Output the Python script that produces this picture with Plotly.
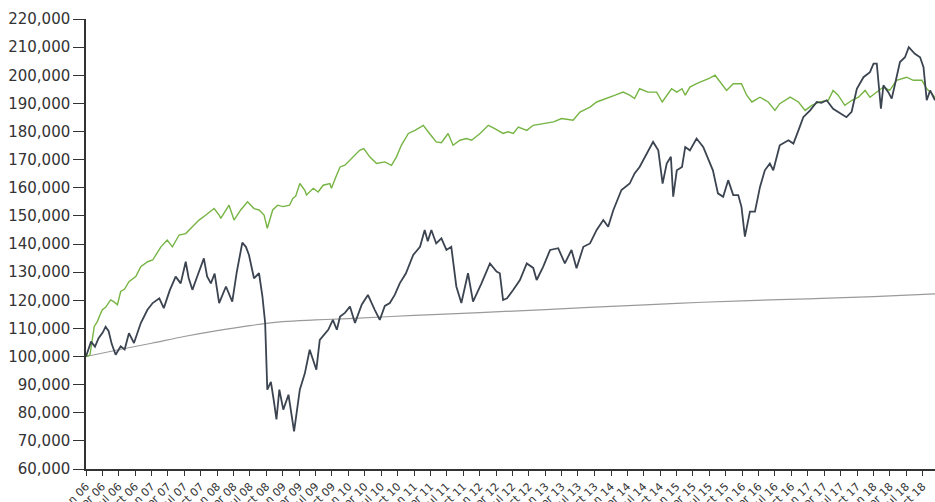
import plotly.graph_objects as go

# ---- Data ----
equity_dates = [
    "2006-01-01", "2006-01-29", "2006-02-20", "2006-03-12", "2006-04-04", "2006-04-20", "2006-05-07", "2006-05-24",
    "2006-06-15", "2006-07-13", "2006-08-04", "2006-08-28", "2006-09-25", "2006-11-02", "2006-12-09", "2007-01-07",
    "2007-02-13", "2007-03-10", "2007-04-12", "2007-05-15", "2007-06-12", "2007-07-10", "2007-07-26", "2007-08-16",
    "2007-09-15", "2007-10-19", "2007-11-06", "2007-11-27", "2007-12-18", "2008-01-12", "2008-02-19", "2008-03-25",
    "2008-04-19", "2008-05-20", "2008-06-09", "2008-06-26", "2008-07-24", "2008-08-21", "2008-09-09", "2008-09-24",
    "2008-10-06", "2008-10-26", "2008-11-12", "2008-11-26", "2008-12-12", "2009-01-03", "2009-02-01", "2009-02-16",
    "2009-03-04", "2009-04-05", "2009-05-03", "2009-05-30", "2009-07-06", "2009-07-25", "2009-09-10", "2009-10-06",
    "2009-10-28", "2009-11-15", "2009-12-12", "2010-01-09", "2010-02-06", "2010-03-16", "2010-04-19", "2010-05-27",
    "2010-06-24", "2010-07-22", "2010-08-19", "2010-09-16", "2010-10-13", "2010-11-16", "2010-12-27", "2011-02-03",
    "2011-03-01", "2011-03-18", "2011-04-07", "2011-05-04", "2011-06-02", "2011-06-30", "2011-07-27", "2011-08-24",
    "2011-09-21", "2011-10-28", "2011-11-25", "2012-01-11", "2012-02-27", "2012-04-04", "2012-04-22", "2012-05-10",
    "2012-06-01", "2012-07-06", "2012-08-12", "2012-09-19", "2012-10-25", "2012-11-13", "2012-12-19", "2013-01-27",
    "2013-03-13", "2013-04-19", "2013-05-26", "2013-06-23", "2013-07-31", "2013-09-06", "2013-10-13", "2013-11-19",
    "2013-12-16", "2014-01-14", "2014-02-28", "2014-04-15", "2014-05-12", "2014-06-09", "2014-07-08", "2014-08-23",
    "2014-09-21", "2014-10-15", "2014-11-07", "2014-11-30", "2014-12-13", "2015-01-02", "2015-01-31", "2015-02-18",
    "2015-03-16", "2015-04-22", "2015-05-29", "2015-06-25", "2015-07-22", "2015-08-19", "2015-09-17", "2015-10-15",
    "2015-11-12", "2015-12-10", "2015-12-28", "2016-01-16", "2016-02-13", "2016-03-12", "2016-04-09", "2016-05-06",
    "2016-06-03", "2016-06-22", "2016-07-28", "2016-09-14", "2016-10-12", "2016-11-09", "2016-12-06", "2017-01-13",
    "2017-02-19", "2017-03-17", "2017-04-15", "2017-05-21", "2017-07-06", "2017-08-03", "2017-09-01", "2017-09-30",
    "2017-11-06", "2017-12-12", "2018-01-01", "2018-01-19", "2018-02-11", "2018-02-25", "2018-03-24", "2018-04-12",
    "2018-05-01", "2018-05-28", "2018-06-25", "2018-07-16", "2018-08-19", "2018-09-17", "2018-10-06", "2018-10-24",
    "2018-11-12", "2018-12-09",
]
equity_values = [
    100000, 105300, 103500, 106500, 108500, 110600, 109000, 104500,
    100600, 103600, 102500, 108300, 104800, 111900, 116600, 119000,
    120700, 117200, 123500, 128400, 126000, 133700, 128000, 123700,
    129000, 134900, 128500, 126000, 129500, 119000, 124900, 119500,
    130000, 140500, 139000, 136100, 127800, 129600, 121300, 112000,
    88200, 91000, 84000, 77600, 88200, 81100, 86400, 80000,
    73400, 88200, 94000, 102400, 95300, 105900, 109500, 113000,
    109500, 114200, 115500, 117800, 111900, 118500, 121900, 116600,
    113000, 118000, 119000, 122000, 126000, 129500, 136100, 139000,
    145000, 141000, 145000, 140200, 142000, 137900, 139000, 124900,
    119000, 129600, 119500, 126000, 133100, 130200, 129600, 120100,
    120700, 123700, 127200, 133100, 131500, 127200, 131900, 137900,
    138500, 133100, 137900, 131400, 139000, 140200, 145000, 148500,
    146100, 152100, 159200, 161500, 165100, 167400, 171000, 176300,
    173300, 161500, 168600, 171000, 156800, 166200, 167400, 174500,
    173300, 177500, 174500, 170400, 166200, 158000, 156800, 162700,
    157400, 157400, 153200, 142600, 151500, 151500, 160300, 166200,
    168600, 166200, 175100, 176900, 175700, 180400, 185100, 187500,
    190500, 190200, 191100, 188100, 186400, 185100, 187000, 195200,
    199300, 201100, 204100, 204100, 188100, 196400, 194000, 191700,
    197000, 204700, 206400, 210000, 207600, 206400, 202900, 191100,
    194600, 191100,
]

bond_dates = [
    "2006-01-01", "2006-01-23", "2006-02-16", "2006-03-05", "2006-03-18", "2006-04-02", "2006-04-20", "2006-05-18",
    "2006-06-04", "2006-06-25", "2006-07-13", "2006-08-04", "2006-08-28", "2006-10-05", "2006-11-02", "2006-12-10",
    "2007-01-07", "2007-02-01", "2007-02-22", "2007-03-29", "2007-04-27", "2007-06-03", "2007-07-10", "2007-08-16",
    "2007-09-22", "2007-10-30", "2007-12-15", "2008-01-12", "2008-01-21", "2008-03-07", "2008-04-04", "2008-05-11",
    "2008-06-18", "2008-07-24", "2008-08-21", "2008-09-18", "2008-10-06", "2008-11-05", "2008-12-03", "2009-01-01",
    "2009-02-07", "2009-02-25", "2009-03-13", "2009-04-05", "2009-05-03", "2009-05-12", "2009-06-19", "2009-07-16",
    "2009-08-13", "2009-09-19", "2009-09-28", "2009-10-27", "2009-11-15", "2009-12-12", "2010-01-09", "2010-02-06",
    "2010-03-04", "2010-03-27", "2010-04-29", "2010-06-06", "2010-07-22", "2010-08-28", "2010-09-25", "2010-10-22",
    "2010-11-30", "2011-01-06", "2011-02-21", "2011-03-28", "2011-05-04", "2011-06-02", "2011-07-09", "2011-08-06",
    "2011-09-13", "2011-10-19", "2011-11-17", "2012-01-03", "2012-02-18", "2012-03-25", "2012-05-10", "2012-06-07",
    "2012-07-06", "2012-08-03", "2012-09-19", "2012-10-25", "2012-12-19", "2013-02-15", "2013-04-01", "2013-06-04",
    "2013-07-12", "2013-09-06", "2013-10-13", "2013-12-08", "2014-01-24", "2014-03-09", "2014-04-15", "2014-05-12",
    "2014-06-09", "2014-07-26", "2014-09-12", "2014-10-13", "2014-11-07", "2014-12-04", "2015-01-02", "2015-01-31",
    "2015-02-18", "2015-03-16", "2015-04-22", "2015-06-08", "2015-07-04", "2015-08-03", "2015-09-09", "2015-10-06",
    "2015-11-12", "2015-12-28", "2016-01-26", "2016-02-24", "2016-04-09", "2016-05-25", "2016-07-01", "2016-07-28",
    "2016-09-24", "2016-11-09", "2016-12-16", "2017-01-22", "2017-03-09", "2017-04-24", "2017-05-21", "2017-06-18",
    "2017-07-25", "2017-09-03", "2017-10-09", "2017-11-15", "2017-12-12", "2018-01-19", "2018-02-25", "2018-04-01",
    "2018-05-09", "2018-07-04", "2018-08-10", "2018-09-27", "2018-10-24", "2018-11-21", "2018-12-09",
]
bond_values = [
    100000, 100500, 110700, 112400, 114500, 116600, 117500, 120100,
    119500, 118400, 123100, 124000, 126600, 128400, 131900, 133700,
    134300, 137000, 139000, 141400, 139000, 143200, 143700, 146100,
    148500, 150300, 152600, 150300, 149100, 153800, 148500, 152100,
    155000, 152600, 152100, 150300, 145600, 152100, 153800, 153300,
    153800, 156200, 157000, 161500, 159100, 157400, 159800, 158500,
    160900, 161500, 159800, 164500, 167400, 168000, 169800, 171600,
    173300, 173900, 171000, 168600, 169200, 168000, 171000, 175100,
    179300, 180400, 182200, 179300, 176300, 176000, 179300, 175100,
    176900, 177500, 176900, 179300, 182200, 181000, 179300, 179900,
    179300, 181600, 180400, 182200, 182800, 183400, 184600, 184000,
    186900, 188700, 190500, 191700, 192900, 194000, 192900, 191700,
    195200, 194000, 194000, 190500, 192900, 195200, 194000, 195200,
    192900, 195800, 197000, 198200, 199000, 200000, 197000, 194600,
    197000, 197000, 192900, 190500, 192200, 190500, 187500, 189900,
    192200, 190500, 187500, 189300, 190500, 191100, 194600, 192900,
    189300, 191100, 192200, 194600, 192200, 194000, 195800, 194600,
    198200, 199300, 198200, 198200, 195200, 193500, 192000,
]

cash_dates = [
    "2006-01-01", "2006-07-01", "2007-01-01", "2007-07-01", "2008-01-01", "2008-07-01",
    "2009-01-01", "2009-07-01", "2010-01-01", "2011-01-01", "2012-01-01", "2013-01-01",
    "2014-01-01", "2015-01-01", "2016-01-01", "2017-01-01", "2018-01-01", "2018-12-09",
]
cash_values = [
    100000, 102400, 104700, 107100, 109200, 111000,
    112400, 113000, 113500, 114600, 115600, 116700,
    117800, 118900, 119800, 120500, 121300, 122300,
]

y_range = [60000, 220000]
x_range = ["2006-01-01", "2018-12-09"]

fig = go.Figure()
fig.add_trace(go.Scatter(x=cash_dates, y=cash_values, mode="lines",
                         line=dict(color="#9a9a9a", width=1.2, shape="spline"),
                         hoverinfo="skip"))
fig.add_trace(go.Scatter(x=bond_dates, y=bond_values, mode="lines",
                         line=dict(color="#76b443", width=1.4)))
fig.add_trace(go.Scatter(x=equity_dates, y=equity_values, mode="lines",
                         line=dict(color="#3b4450", width=1.8)))

fig.update_layout(
    width=935, height=502,
    margin=dict(l=86, r=0, t=19, b=33),
    paper_bgcolor="white", plot_bgcolor="white",
    showlegend=False,
    font=dict(family="DejaVu Sans", color="#333333"),
)
fig.update_xaxes(
    type="date", range=x_range, automargin=False,
    tick0="2006-01-01", dtick="M3", tickformat="%b %y",
    tickangle=-45, tickfont=dict(size=11, color="#333333"),
    ticks="outside", ticklen=5, tickwidth=1.2, tickcolor="#333333",
    showline=True, linecolor="#333333", linewidth=1.5,
    showgrid=False, zeroline=False,
)
fig.update_yaxes(
    range=y_range, dtick=10000, tickformat=",", automargin=False,
    tickfont=dict(size=15, color="#333333"),
    ticks="outside", ticklen=11, tickwidth=1.2, tickcolor="#333333",
    showline=True, linecolor="#333333", linewidth=1.5,
    showgrid=False, zeroline=False,
)

# remove the default 8px page margin so the figure fills the window exactly
fig.write_html(
    "out.html",
    config={"displayModeBar": False},
    post_script="document.body.style.margin='0';document.body.style.overflow='hidden';",
)
